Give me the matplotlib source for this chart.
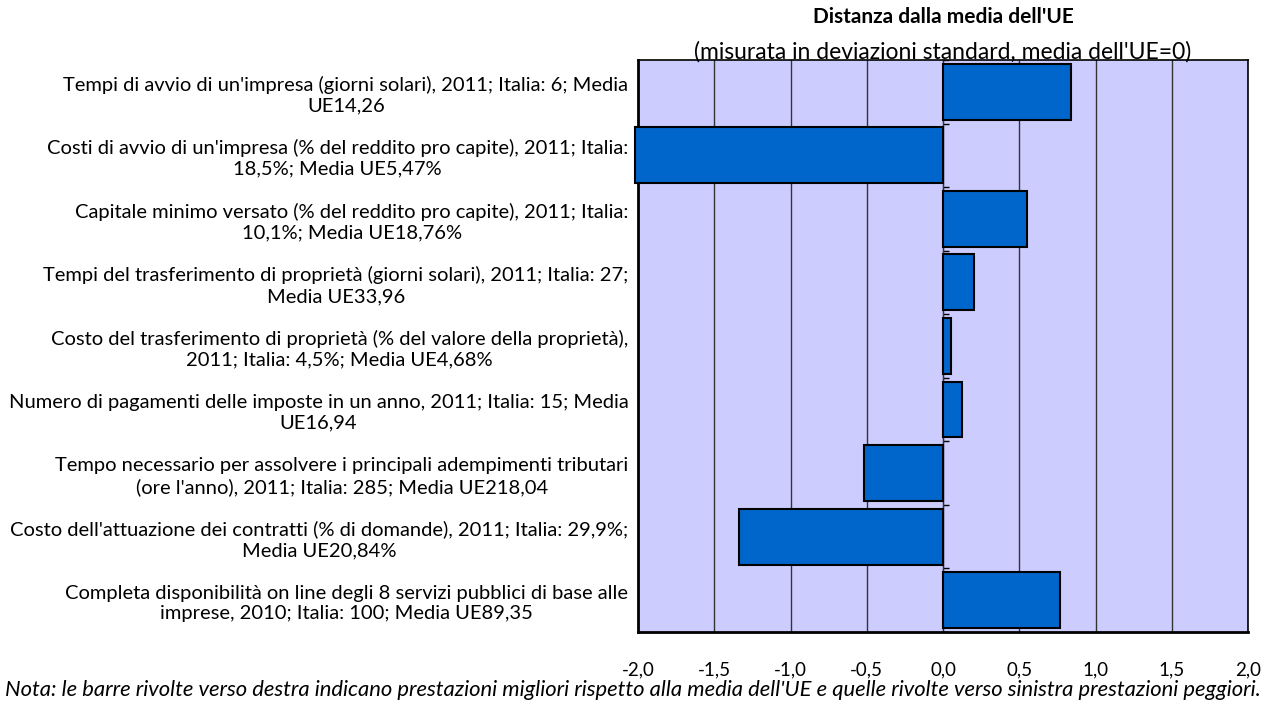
import matplotlib.pyplot as plt
from matplotlib.ticker import FixedLocator, NullFormatter

plt.rcParams['font.family'] = ['Lato', 'DejaVu Sans']

categories = [
    "Tempi di avvio di un'impresa (giorni solari), 2011; Italia: 6; Media\nUE14,26",
    "Costi di avvio di un'impresa (% del reddito pro capite), 2011; Italia:\n18,5%; Media UE5,47%",
    "Capitale minimo versato (% del reddito pro capite), 2011; Italia:\n10,1%; Media UE18,76%",
    "Tempi del trasferimento di proprietà (giorni solari), 2011; Italia: 27;\nMedia UE33,96",
    "Costo del trasferimento di proprietà (% del valore della proprietà),\n2011; Italia: 4,5%; Media UE4,68%",
    "Numero di pagamenti delle imposte in un anno, 2011; Italia: 15; Media\nUE16,94",
    "Tempo necessario per assolvere i principali adempimenti tributari\n(ore l'anno), 2011; Italia: 285; Media UE218,04",
    "Costo dell'attuazione dei contratti (% di domande), 2011; Italia: 29,9%;\nMedia UE20,84%",
    "Completa disponibilità on line degli 8 servizi pubblici di base alle\nimprese, 2010; Italia: 100; Media UE89,35",
]
values = [0.84, -2.02, 0.55, 0.20, 0.054, 0.126, -0.52, -1.34, 0.77]
xticks = [-2.0, -1.5, -1.0, -0.5, 0.0, 0.5, 1.0, 1.5, 2.0]

fig = plt.figure(figsize=(12.7, 7.06), dpi=100)
ax = fig.add_axes([0.5024, 0.105, 0.4803, 0.81])
ax.set_facecolor('#CCCCFF')

pos = list(range(len(categories)))
ax.barh(pos, values, height=0.88, color='#0066CC', edgecolor='black',
        linewidth=1.5, zorder=3, clip_on=False)

ax.set_xlim(-2, 2)
ax.set_ylim(len(categories) - 0.5, -0.5)
ax.set_xticks(xticks)
ax.set_xticklabels([('%.1f' % t).replace('.', ',') for t in xticks],
                   fontsize=13.5)
ax.tick_params(axis='x', length=0, pad=21)
ax.xaxis.grid(True, color='#333333', linewidth=1, zorder=1)
ax.set_axisbelow(True)

ax.set_yticks(pos)
ax.set_yticklabels(categories, fontsize=14.5, linespacing=1.25)
ax.tick_params(axis='y', length=0, pad=7)
for lbl in ax.get_yticklabels():
    lbl.set_multialignment('center')

for s in ax.spines.values():
    s.set_color('black')
    s.set_linewidth(1.2)
ax.spines['left'].set_linewidth(2)
ax.spines['bottom'].set_linewidth(2)

# asse dello zero con piccole tacche tra le categorie
zero = ax.secondary_yaxis(0.5)
zero.yaxis.set_major_locator(FixedLocator([p - 0.5 for p in pos] + [len(pos) - 0.5]))
zero.yaxis.set_major_formatter(NullFormatter())
zero.tick_params(axis='y', length=4, width=1, direction='out')
zero.spines['left'].set_linewidth(1.5)

fig.text(0.7425, 0.976, "Distanza dalla media dell'UE", ha='center', va='center',
         fontsize=15, fontweight='bold')
fig.text(0.7425, 0.926, "(misurata in deviazioni standard, media dell'UE=0)",
         ha='center', va='center', fontsize=16.5)
fig.text(0.4985, 0.022, "Nota: le barre rivolte verso destra indicano prestazioni migliori rispetto "
         "alla media dell'UE e quelle rivolte verso sinistra prestazioni peggiori.",
         ha='center', va='center', fontsize=15.8, style='italic')

fig.savefig('out.png', dpi=100)
